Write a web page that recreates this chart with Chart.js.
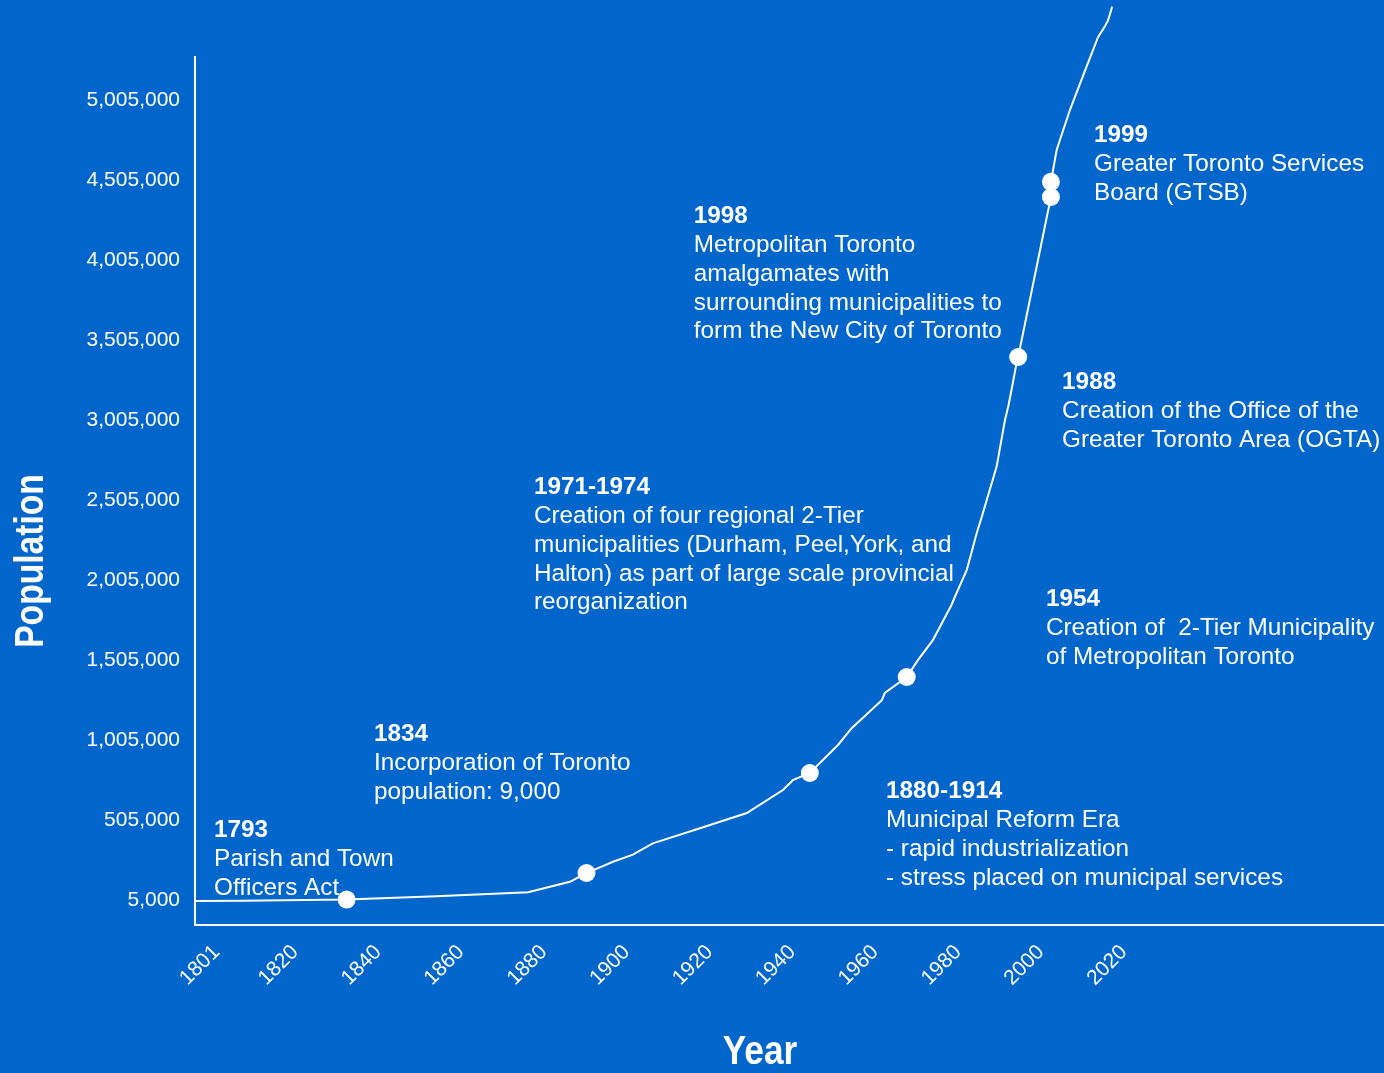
<!DOCTYPE html>
<html lang="en">
<head>
    <meta charset="UTF-8">
    <title>Toronto Population</title>
    <script src="https://cdn.jsdelivr.net/npm/chart.js"></script>
    <style>
        body {
            margin: 0;
            background: #0066cc;
        }
        #wrap {
            width: 1384px;
            height: 1073px;
            position: relative;
        }
    </style>
</head>
<body>
    <div id="wrap"><canvas id="popChart"></canvas></div>

    <script>
        // population curve
        const popYears = [1795.8, 1807.4, 1832.4, 1854.1, 1876.2, 1886.3, 1890.3, 1893.1, 1896.7, 1901.5,
            1906.3, 1917.7, 1929.0, 1937.8, 1940.1, 1944.2, 1951.0, 1954.3, 1961.6, 1962.3,
            1967.6, 1970.3, 1973.9, 1978.4, 1979.2, 1982.1, 1984.5, 1985.7, 1989.3, 1991.3,
            1992.1, 1992.9, 1994.1, 1994.5, 2002.4, 2002.4, 2003.8, 2007.0, 2011.0, 2013.8,
            2015.4, 2016.2, 2017.2];
        const popValues = [0, 2000, 9000, 30000, 55000, 120000, 175000, 205000, 245000, 290000,
            360000, 455000, 550000, 695000, 755000, 800000, 975000, 1080000, 1255000, 1300000,
            1400000, 1505000, 1630000, 1850000, 1900000, 2070000, 2300000, 2400000, 2715000, 3005000,
            3090000, 3195000, 3360000, 3400000, 4400000, 4495000, 4695000, 4945000, 5215000, 5400000,
            5465000, 5505000, 5590000];

        // white dots on the curve
        const eventYears = [1832.4, 1890.3, 1944.2, 1967.6, 1994.5, 2002.4, 2002.4];
        const eventValues = [9000, 175000, 800000, 1400000, 3400000, 4400000, 4495000];

        const xTicks = [1801, 1820, 1840, 1860, 1880, 1900, 1920, 1940, 1960, 1980, 2000, 2020];
        const yTicks = [5000, 505000, 1005000, 1505000, 2005000, 2505000, 3005000, 3505000, 4005000, 4505000, 5005000];

        // text blocks, anchored at (year, population) of their first line
        const noteYears = [1800.4, 1839.0, 1962.6, 2001.2, 1877.6, 2005.1, 1916.2, 2012.8];
        const noteValues = [440000, 1040000, 683750, 1883750, 2583750, 3240000, 4277500, 4783750];
        const noteTitles = ['1793', '1834', '1880-1914', '1954', '1971-1974', '1988', '1998', '1999'];
        const noteTexts = [
            ['Parish and Town', 'Officers Act'],
            ['Incorporation of Toronto', 'population: 9,000'],
            ['Municipal Reform Era', '- rapid industrialization', '- stress placed on municipal services'],
            ['Creation of  2-Tier Municipality', 'of Metropolitan Toronto'],
            ['Creation of four regional 2-Tier', 'municipalities (Durham, Peel,York, and',
                'Halton) as part of large scale provincial', 'reorganization'],
            ['Creation of the Office of the', 'Greater Toronto Area (OGTA)'],
            ['Metropolitan Toronto', 'amalgamates with', 'surrounding municipalities to', 'form the New City of Toronto'],
            ['Greater Toronto Services', 'Board (GTSB)']
        ];

        const FONT = '"Liberation Sans", Arial, sans-serif';

        const notesPlugin = {
            id: 'notes',
            afterDraw(chart) {
                const ctx = chart.ctx;
                const xs = chart.scales.x, ys = chart.scales.y;
                ctx.save();
                ctx.fillStyle = '#ffffff';
                ctx.textAlign = 'left';
                ctx.textBaseline = 'middle';
                noteTitles.forEach(function(title, i) {
                    let x = xs.getPixelForValue(noteYears[i]);
                    let y = ys.getPixelForValue(noteValues[i]);
                    ctx.font = 'bold 24.3px ' + FONT;
                    ctx.fillText(title, x, y);
                    ctx.font = '24.3px ' + FONT;
                    noteTexts[i].forEach(function(line, j) {
                        ctx.fillText(line, x, y + 28.75 * (j + 1));
                    });
                });

                // axis titles, narrow bold
                ctx.font = 'bold 40px ' + FONT;
                ctx.textAlign = 'center';
                ctx.textBaseline = 'alphabetic';
                ctx.save();
                ctx.translate(760, 1064);
                ctx.scale(0.88, 1);
                ctx.fillText('Year', 0, 0);
                ctx.restore();
                ctx.save();
                ctx.translate(43, 561);
                ctx.rotate(-Math.PI / 2);
                ctx.scale(0.84, 1);
                ctx.fillText('Population', 0, 0);
                ctx.restore();
                ctx.restore();
            }
        };

        const popChart = new Chart(document.getElementById('popChart'), {
            data: {
                datasets: [{
                    type: 'scatter',
                    data: eventYears.map((yr, i) => ({ x: yr, y: eventValues[i] })),
                    backgroundColor: '#ffffff',
                    borderWidth: 0,
                    pointRadius: 9,
                    pointHoverRadius: 9
                }, {
                    type: 'line',
                    data: popYears.map((yr, i) => ({ x: yr, y: popValues[i] })),
                    borderColor: '#ffffff',
                    borderWidth: 2,
                    pointRadius: 0,
                    tension: 0,
                    fill: false,
                    clip: false
                }]
            },
            options: {
                responsive: true,
                maintainAspectRatio: false,
                animation: false,
                layout: {
                    autoPadding: false,
                    padding: { top: 57, left: 0, right: 0, bottom: 0 }
                },
                plugins: {
                    legend: { display: false },
                    tooltip: { enabled: false }
                },
                scales: {
                    x: {
                        type: 'linear',
                        min: 1795.8,
                        max: 2082.8,
                        afterBuildTicks: s => { s.ticks = xTicks.map(v => ({ value: v })); },
                        afterFit: s => {
                            s.height = 148;
                            s.paddingLeft = 0;
                            s.paddingRight = 0;
                        },
                        grid: { display: false, drawTicks: false, tickLength: 0 },
                        border: { display: true, color: '#ffffff', width: 2 },
                        ticks: {
                            color: '#ffffff',
                            font: { family: FONT, size: 21 },
                            minRotation: 45,
                            maxRotation: 45,
                            padding: 15,
                            autoSkip: false,
                            callback: v => String(v)
                        }
                    },
                    y: {
                        type: 'linear',
                        min: -150000,
                        max: 5275000,
                        afterBuildTicks: s => { s.ticks = yTicks.map(v => ({ value: v })); },
                        afterFit: s => {
                            s.width = 195;
                            s.paddingTop = 0;
                            s.paddingBottom = 0;
                        },
                        grid: { display: false, drawTicks: false, tickLength: 0 },
                        border: { display: true, color: '#ffffff', width: 2 },
                        ticks: {
                            color: '#ffffff',
                            font: { family: FONT, size: 21 },
                            padding: 15,
                            autoSkip: false,
                            callback: v => v.toLocaleString('en-US')
                        }
                    }
                }
            },
            plugins: [notesPlugin]
        });
    </script>
</body>
</html>
